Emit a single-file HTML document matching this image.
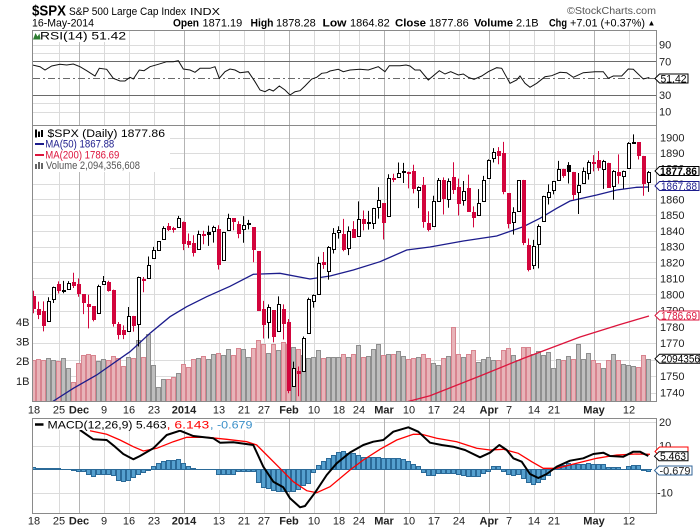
<!DOCTYPE html>
<html><head><meta charset="utf-8">
<style>
html,body{margin:0;padding:0;background:#fff;}
svg{display:block;font-family:"Liberation Sans",Arial,sans-serif;}
</style></head><body>
<svg id="c" width="700" height="530" viewBox="0 0 700 530" xmlns="http://www.w3.org/2000/svg">
<defs>
<clipPath id="cpM"><rect x="33" y="126" width="623" height="275"/></clipPath>
<clipPath id="cpR"><rect x="33" y="31" width="623" height="94"/></clipPath>
<clipPath id="cpD"><rect x="33" y="419" width="623" height="94"/></clipPath>
</defs>
<rect x="0" y="0" width="700" height="530" fill="#fff"/>
<g id="grid"></g>
<g clip-path="url(#cpR)">
<line x1="33" x2="656" y1="61.5" y2="61.5" stroke="#6a6a6a"/>
<line x1="33" x2="656" y1="95.5" y2="95.5" stroke="#6a6a6a"/>
<line x1="33" x2="656" y1="78.5" y2="78.5" stroke="#6a6a6a" stroke-dasharray="7,3,2,3"/>
<polyline fill="none" stroke="#111" stroke-width="1" points="32.5,65 40,66.7 45,70 51.7,66 60,64.3 66.7,65 73.3,64 80,66.7 86.7,70.7 95,76 99.3,68.3 106.7,69.3 113.3,78.3 120,81 125,81 130,77.3 133.3,79 139.3,70 144,70.7 150,66.7 158.3,64.3 166.7,61.7 173.3,61.7 178.3,60.7 183.3,69 190,70 195,72.3 200,68.3 210,68.3 215,66.7 219.3,78.3 225,71.7 230,69 235,70 240,72.7 248.3,71.7 255,81.7 260,90 265,91.7 269.3,89.3 273.3,91 279.3,86 285,90 290,95 295,91.7 300,90.7 305,86 311.7,79 316.7,77.3 321.7,73.3 326.7,72.7 330,71 338.3,69.3 343.3,71.7 350,70 360,69.3 368.3,70 378.3,66.7 385,71.7 389.3,65.7 400,65.7 406,65 410,66 415,70 420,70 428.3,80 439.3,70.7 445,74 450.7,71.7 458.3,75 463.3,74 468.3,77.3 474,79.3 481.7,76 488.3,71.7 496.7,67.7 501.7,68.3 510,83.3 516.7,80 520,76 525,83.3 530,87.3 536.7,83.3 545,76.7 551.7,75.7 560,72.3 566.7,72.7 573.3,77.3 583.3,72.7 595,71.7 603.3,71.7 608.3,78.3 613.3,76 621.7,76 628.3,69 633.3,69.3 643.3,79 649.3,77.5"/>
</g>
<g clip-path="url(#cpM)">
<g id="vol"></g>
<polyline fill="none" stroke="#1c1c8c" stroke-width="1.3" points="52.7,401.5 73.3,388.3 96.7,375 130,351.7 150,333.3 170,316.7 186.7,306.7 206.7,296.7 230,286.3 253.3,274.3 280,273.3 310,279 330,276 353.3,270 380,261.7 406.7,250 430,247 463.3,241 496.7,236 523.3,226.7 540,218.3 556.7,208.3 570,201 596.7,195 616.7,190 636.7,187.3 649,187"/>
<polyline fill="none" stroke="#dc143c" stroke-width="1.3" points="408,401.5 430,395.7 480,376 523,358.5 580,337 620,324.5 649,316"/>
<g id="cand"></g>
</g>
<g clip-path="url(#cpD)">
<line x1="33" x2="652" y1="469.5" y2="469.5" stroke="#2b6a98"/>
<g id="hist"></g>
<polyline fill="none" stroke="#ff0000" stroke-width="1.3" points="90,430.7 106.7,434.3 120,440 133.3,446.7 143.3,451 156.7,448.3 173.3,441.7 186.7,437.3 206.7,437.3 226.7,439.3 246.7,441.7 256.7,445 266.7,455 280,468.3 293.3,481.7 306.7,490.7 316.7,492.7 330,486.7 350,470 363.3,460 380,449.3 396.7,440 413.3,434.3 421.7,434.3 436.7,438.3 456.7,441.7 476.7,448.3 490,450 503.3,449.3 518.3,453.3 531.7,461.7 543.3,468.3 556.7,468.3 576.7,463.3 596.7,458.3 616.7,455 636.7,454 650,454.3"/>
<polyline fill="none" stroke="#000" stroke-width="2" stroke-linejoin="round" points="80,430 93.3,439.3 106.7,440 115,446.7 123.3,454 133.3,459.3 140,456 153.3,448.3 166.7,435 180,430.7 193.3,436 213.3,438.3 220,442.7 233.3,442.3 253.3,445 263.3,466.7 273.3,481.7 283.3,487.3 290,498.3 300,507.3 305,506 315,492.7 326.7,475 336.7,463.3 350,452.5 363.3,445 373.3,441.7 383.3,440 393.3,431.7 408.3,427.3 418.3,431.7 430,442.7 441.7,445 453.3,446.7 465,450 480,457.3 490,452.7 499.3,445 506.7,450 513.3,458.3 521.7,461.7 530,474 538.3,478 546.7,474 556.7,466.7 570,460.7 583.3,458.3 593.3,454 603.3,452.7 610,456 623.3,456.7 633.3,451.7 640,451.7 648.3,456"/>
</g>

<rect x="32.5" y="30.5" width="624" height="95" fill="none" stroke="#8a8a8a"/>
<rect x="32.5" y="125.5" width="624" height="276" fill="none" stroke="#8a8a8a"/>
<rect x="32.5" y="418.5" width="624" height="95" fill="none" stroke="#8a8a8a"/>

<text x="32" y="15.5" font-size="15" font-weight="bold" fill="#000" textLength="34" lengthAdjust="spacingAndGlyphs">$SPX</text>
<text x="69" y="15" font-size="11" fill="#000" textLength="117" lengthAdjust="spacingAndGlyphs">S&amp;P 500 Large Cap Index</text>
<text x="190" y="15" font-size="10" fill="#000" textLength="30" lengthAdjust="spacingAndGlyphs">INDX</text>
<text x="567" y="14" font-size="10.5" fill="#555" textLength="89" lengthAdjust="spacingAndGlyphs">©StockCharts.com</text>
<text x="32" y="26.5" font-size="11" fill="#000" textLength="62" lengthAdjust="spacingAndGlyphs">16-May-2014</text>
<g font-size="11" fill="#000">
<text x="173" y="26.5" font-weight="bold" textLength="26" lengthAdjust="spacingAndGlyphs">Open</text>
<text x="202.5" y="26.5">1871.19</text>
<text x="250.5" y="26.5" font-weight="bold" textLength="23" lengthAdjust="spacingAndGlyphs">High</text>
<text x="276" y="26.5">1878.28</text>
<text x="322.5" y="26.5" font-weight="bold" textLength="24" lengthAdjust="spacingAndGlyphs">Low</text>
<text x="350" y="26.5">1864.82</text>
<text x="395" y="26.5" font-weight="bold" textLength="31" lengthAdjust="spacingAndGlyphs">Close</text>
<text x="429" y="26.5">1877.86</text>
<text x="474" y="26.5" font-weight="bold" textLength="39" lengthAdjust="spacingAndGlyphs">Volume</text>
<text x="516" y="26.5">2.1B</text>
<text x="549" y="26.5" font-weight="bold" textLength="18" lengthAdjust="spacingAndGlyphs">Chg</text>
<text x="570" y="26.5" textLength="75" lengthAdjust="spacingAndGlyphs">+7.01 (+0.37%)</text>
<text x="647.5" y="25.5" font-size="8">▲</text>
</g>

<rect x="33" y="31" width="96" height="11" fill="#fff"/>
<polygon points="33,39.5 35.5,33 37.5,36.5 39.5,33.5 40.5,39.5" fill="#2e7d32"/>
<text x="40" y="39.5" font-size="11" fill="#000" textLength="86" lengthAdjust="spacingAndGlyphs">RSI(14) 51.42</text>

<g font-size="11" fill="#222">
<text x="659" y="48.5">90</text>
<text x="659" y="65.5">70</text>
<text x="659" y="99">30</text>
<text x="659" y="115.5">10</text>
</g>
<polygon points="655,78.5 659.5,74 688,74 688,83 659.5,83" fill="#fff" stroke="#000"/>
<text x="660.5" y="82.5" font-size="11" fill="#000" textLength="26" lengthAdjust="spacingAndGlyphs">51.42</text>

<rect x="33" y="126" width="137" height="46" fill="#fff"/>
<rect x="35" y="130" width="2" height="7" fill="#000"/>
<rect x="38" y="131.5" width="2" height="5.5" fill="#000"/>
<rect x="41" y="130" width="2" height="7" fill="#000"/>
<line x1="36" x2="36" y1="129" y2="138" stroke="#000"/>
<text x="47.5" y="137" font-size="11" fill="#000" textLength="117.5" lengthAdjust="spacingAndGlyphs">$SPX (Daily) 1877.86</text>
<line x1="35" x2="44" y1="144" y2="144" stroke="#1c1c8c" stroke-width="2"/>
<text x="45.3" y="147.5" font-size="11" fill="#1c1c8c" textLength="69" lengthAdjust="spacingAndGlyphs">MA(50) 1867.88</text>
<line x1="35" x2="44" y1="155" y2="155" stroke="#dc143c" stroke-width="2"/>
<text x="45.3" y="158.5" font-size="11" fill="#dc143c" textLength="74" lengthAdjust="spacingAndGlyphs">MA(200) 1786.69</text>
<rect x="35" y="164" width="2" height="5" fill="#666"/>
<rect x="38" y="162" width="2" height="7" fill="#666"/>
<rect x="41" y="163" width="2" height="6" fill="#666"/>
<text x="46" y="169" font-size="11" fill="#555" textLength="94" lengthAdjust="spacingAndGlyphs">Volume 2,094,356,608</text>

<g font-size="11" fill="#222">
<text x="660" y="141.7">1900</text>
<text x="660" y="157">1890</text>
<text x="660" y="172.4">1880</text>
<text x="660" y="187.9">1870</text>
<text x="660" y="203.5">1860</text>
<text x="660" y="219.1">1850</text>
<text x="660" y="234.8">1840</text>
<text x="660" y="250.6">1830</text>
<text x="660" y="266.5">1820</text>
<text x="660" y="282.5">1810</text>
<text x="660" y="298.5">1800</text>
<text x="660" y="314.7">1790</text>
<text x="660" y="330.9">1780</text>
<text x="660" y="347.2">1770</text>
<text x="660" y="363.6">1760</text>
<text x="660" y="380.1">1750</text>
<text x="660" y="396.7">1740</text>
</g>
<g font-size="11" fill="#222" text-anchor="end">
<text x="29.5" y="326">4B</text>
<text x="29.5" y="345.5">3B</text>
<text x="29.5" y="365">2B</text>
<text x="29.5" y="385">1B</text>
</g>
<polygon points="655,186 659.5,181.5 699,181.5 699,190.5 659.5,190.5" fill="#fff" stroke="#1c1c8c"/>
<text x="661" y="190" font-size="11" fill="#1c1c8c" textLength="36" lengthAdjust="spacingAndGlyphs">1867.88</text>
<polygon points="655,171 659.5,166.5 699,166.5 699,175.5 659.5,175.5" fill="#fff" stroke="#000"/>
<text x="660" y="175" font-size="11" font-weight="bold" fill="#000" textLength="37" lengthAdjust="spacingAndGlyphs">1877.86</text>
<polygon points="655,315.5 659.5,311 699,311 699,320 659.5,320" fill="#fff" stroke="#dc143c"/>
<text x="661" y="319.5" font-size="11" fill="#dc143c" textLength="36" lengthAdjust="spacingAndGlyphs">1786.69</text>
<polygon points="655,358.7 659.5,354.2 700,354.2 700,363.2 659.5,363.2" fill="#fff" stroke="#000"/>
<text x="661" y="362.7" font-size="11" fill="#000" textLength="39" lengthAdjust="spacingAndGlyphs">2094356</text>

<g font-size="11" fill="#222" text-anchor="middle">
<text x="34" y="413.5">18</text>
<text x="59" y="413.5">25</text>
<text x="79" y="413.5" font-weight="bold">Dec</text>
<text x="104" y="413.5">9</text>
<text x="129" y="413.5">16</text>
<text x="154" y="413.5">23</text>
<text x="184" y="413.5" font-weight="bold">2014</text>
<text x="219" y="413.5">13</text>
<text x="244" y="413.5">21</text>
<text x="264" y="413.5">27</text>
<text x="289" y="413.5" font-weight="bold">Feb</text>
<text x="314" y="413.5">10</text>
<text x="339" y="413.5">18</text>
<text x="359" y="413.5">24</text>
<text x="384" y="413.5" font-weight="bold">Mar</text>
<text x="409" y="413.5">10</text>
<text x="434" y="413.5">17</text>
<text x="459" y="413.5">24</text>
<text x="489" y="413.5" font-weight="bold">Apr</text>
<text x="509" y="413.5">7</text>
<text x="534" y="413.5">14</text>
<text x="554" y="413.5">21</text>
<text x="594" y="413.5" font-weight="bold">May</text>
<text x="629" y="413.5">12</text>
</g>
<g font-size="11" fill="#222" text-anchor="middle">
<text x="34" y="524.5">18</text>
<text x="59" y="524.5">25</text>
<text x="79" y="524.5" font-weight="bold">Dec</text>
<text x="104" y="524.5">9</text>
<text x="129" y="524.5">16</text>
<text x="154" y="524.5">23</text>
<text x="184" y="524.5" font-weight="bold">2014</text>
<text x="219" y="524.5">13</text>
<text x="244" y="524.5">21</text>
<text x="264" y="524.5">27</text>
<text x="289" y="524.5" font-weight="bold">Feb</text>
<text x="314" y="524.5">10</text>
<text x="339" y="524.5">18</text>
<text x="359" y="524.5">24</text>
<text x="384" y="524.5" font-weight="bold">Mar</text>
<text x="409" y="524.5">10</text>
<text x="434" y="524.5">17</text>
<text x="459" y="524.5">24</text>
<text x="489" y="524.5" font-weight="bold">Apr</text>
<text x="509" y="524.5">7</text>
<text x="534" y="524.5">14</text>
<text x="554" y="524.5">21</text>
<text x="594" y="524.5" font-weight="bold">May</text>
<text x="629" y="524.5">12</text>
</g>

<rect x="33" y="419" width="222" height="11" fill="#fff"/>
<line x1="35" x2="43.5" y1="424.5" y2="424.5" stroke="#000" stroke-width="2.5"/>
<text x="47.5" y="428.3" font-size="11" fill="#000" textLength="119" lengthAdjust="spacingAndGlyphs">MACD(12,26,9) 5.463</text>
<text x="166.7" y="428.3" font-size="11" fill="#ff0000" textLength="42.5" lengthAdjust="spacingAndGlyphs">, 6.143</text>
<text x="210" y="428.3" font-size="11" fill="#3a8fc8" textLength="42.5" lengthAdjust="spacingAndGlyphs">, -0.679</text>

<g font-size="11" fill="#222">
<text x="659" y="426">20</text>
<text x="659" y="449.5">10</text>
<text x="657" y="496.5">-10</text>
</g>
<polygon points="655,451.5 659.5,447 688,447 688,456 659.5,456" fill="#fff" stroke="#ff0000"/>
<polygon points="654.5,456.2 659,451.7 688,451.7 688,460.7 659,460.7" fill="#fff" stroke="#000"/>
<text x="660" y="460.2" font-size="11" fill="#000" textLength="26" lengthAdjust="spacingAndGlyphs">5.463</text>
<polygon points="654.5,470.5 659,466 692,466 692,475 659,475" fill="#fff" stroke="#336699"/>
<text x="659.5" y="474.5" font-size="11" fill="#222" textLength="31" lengthAdjust="spacingAndGlyphs">-0.679</text>
</svg>
<script>
(function(){
const NS="http://www.w3.org/2000/svg";
function el(p,t,a){const e=document.createElementNS(NS,t);for(const k in a)e.setAttribute(k,a[k]);p.appendChild(e);return e;}
const py=p=>137.7+2899*Math.log(1900/p);
const X=i=>34+5*i;
const C=[1791.53,1787.87,1781.37,1795.85,1804.76,1802.48,1802.75,1807.23,1805.81,1800.90,
1795.15,1792.81,1785.03,1805.09,1808.37,1802.62,1782.22,1775.50,1775.32,1786.54,
1781.00,1810.65,1809.60,1818.32,1827.99,1833.32,1842.02,1841.40,1841.07,1848.36,
1831.98,1831.37,1826.77,1837.88,1837.49,1838.13,1842.37,1819.20,1838.88,1848.38,
1845.89,1838.70,1843.80,1844.86,1828.46,1790.29,1781.56,1792.50,1774.20,1794.19,
1782.59,1741.89,1755.20,1751.64,1773.43,1797.02,1799.84,1819.75,1819.26,1829.83,
1838.63,1840.76,1828.75,1839.78,1836.25,1847.61,1845.12,1845.16,1854.29,1859.45,
1845.73,1873.91,1873.81,1877.03,1878.04,1877.17,1867.63,1868.20,1846.34,1841.13,
1858.83,1872.25,1860.77,1872.01,1866.52,1857.44,1865.62,1852.56,1849.04,1857.62,
1872.34,1885.52,1890.90,1888.77,1865.09,1845.04,1851.96,1872.18,1833.08,1815.69,
1830.61,1842.98,1862.31,1864.85,1871.89,1879.55,1875.39,1878.61,1863.40,1869.43,
1878.33,1883.95,1883.68,1881.14,1884.66,1867.72,1878.21,1875.63,1878.48,1896.65,
1897.45,1888.53,1870.85,1877.86];
const O=[1798.82,1790.79,1789.59,1783.52,1797.21,1806.33,1802.87,1803.48,1808.01,1806.55,
1800.10,1794.07,1792.82,1788.36,1806.21,1807.60,1802.76,1781.71,1777.98,1777.48,
1786.47,1781.46,1809.00,1810.39,1822.92,1828.02,1834.96,1842.97,1841.47,1842.61,
1845.86,1833.21,1832.31,1828.71,1837.90,1839.00,1840.06,1841.26,1821.36,1840.52,
1847.99,1844.23,1841.05,1844.71,1842.29,1826.96,1791.03,1783.00,1790.15,1777.17,
1790.88,1782.68,1743.82,1753.38,1752.99,1776.01,1796.20,1800.45,1820.12,1814.82,
1828.46,1839.03,1838.22,1829.24,1841.07,1836.78,1847.66,1845.79,1844.90,1855.12,
1857.68,1849.23,1874.05,1874.18,1878.52,1877.86,1878.26,1866.15,1869.06,1845.07,
1842.81,1858.92,1872.25,1860.09,1874.53,1867.67,1859.48,1867.09,1852.11,1850.07,
1859.16,1873.96,1886.61,1891.43,1890.25,1863.92,1845.48,1852.64,1872.28,1830.65,
1818.18,1831.45,1846.01,1861.73,1865.79,1872.57,1879.32,1881.97,1877.72,1865.00,
1870.78,1877.10,1884.39,1885.30,1879.45,1883.69,1868.53,1877.39,1875.27,1880.03,
1896.75,1897.13,1888.16,1871.19];
const H=[1802.33,1795.51,1795.73,1798.22,1804.84,1808.10,1808.42,1808.27,1813.55,1810.02,
1800.10,1799.80,1792.82,1806.04,1811.52,1808.52,1802.97,1782.99,1780.92,1792.22,
1786.77,1811.08,1810.88,1823.75,1829.75,1833.32,1842.84,1844.89,1842.47,1849.44,
1845.86,1838.24,1837.16,1840.10,1840.02,1843.23,1843.15,1843.45,1839.26,1850.84,
1847.99,1846.04,1849.31,1846.87,1842.29,1826.96,1795.98,1793.87,1790.15,1798.77,
1793.88,1784.83,1758.73,1755.79,1774.06,1798.03,1799.94,1823.54,1826.55,1830.25,
1841.65,1842.87,1847.50,1842.79,1846.13,1858.71,1852.91,1852.65,1854.53,1867.92,
1857.68,1876.23,1876.53,1883.84,1883.57,1877.87,1882.35,1868.38,1874.40,1852.44,
1862.30,1873.76,1874.14,1873.49,1883.97,1873.34,1871.87,1875.92,1855.55,1866.63,
1875.18,1885.84,1893.17,1893.80,1897.28,1864.04,1854.95,1872.43,1872.53,1835.07,
1834.19,1844.02,1862.31,1869.63,1871.89,1884.89,1879.75,1884.06,1877.72,1877.01,
1880.60,1885.20,1888.59,1891.33,1885.51,1883.69,1878.83,1889.07,1878.57,1897.13,
1902.17,1897.13,1888.16,1878.28];
const L=[1788.39,1784.72,1777.23,1783.52,1794.70,1800.58,1800.77,1802.77,1803.98,1798.60,
1787.85,1779.09,1783.38,1788.36,1806.21,1801.75,1780.09,1772.28,1772.45,1777.48,
1777.05,1767.99,1801.35,1810.25,1822.92,1828.02,1834.96,1839.81,1838.77,1842.41,
1827.74,1829.13,1823.73,1828.71,1831.40,1830.38,1832.43,1815.52,1821.36,1840.52,
1840.30,1835.23,1832.38,1840.88,1820.06,1790.29,1772.88,1772.88,1770.45,1777.17,
1772.26,1739.66,1743.82,1737.92,1752.99,1776.01,1791.83,1800.41,1815.97,1809.22,
1825.59,1835.01,1826.99,1824.58,1835.60,1836.78,1840.19,1840.66,1841.13,1847.67,
1834.44,1849.23,1871.11,1874.18,1870.56,1867.04,1863.88,1854.38,1841.86,1839.57,
1842.81,1858.92,1850.35,1854.63,1863.46,1849.69,1855.96,1852.56,1842.11,1850.07,
1859.16,1873.96,1883.79,1882.65,1863.26,1841.48,1837.49,1852.38,1830.87,1814.36,
1815.80,1816.29,1846.01,1856.72,1863.18,1872.57,1873.91,1870.24,1859.70,1850.61,
1870.78,1872.69,1878.04,1878.50,1866.77,1867.72,1859.79,1870.05,1867.02,1880.03,
1896.06,1885.77,1862.36,1864.82];
const V=[2.07,2.1,2.07,2.15,2.07,2.02,2.15,1.65,0.95,1.9,
2.3,2.35,2.3,2.0,2.1,2.05,2.28,2.15,1.75,2.2,
2.15,3.1,2.2,3.4,1.82,0.7,1.1,1.12,1.2,1.4,
1.85,1.72,2.1,2.15,2.27,2.1,2.35,2.4,2.32,2.6,
2.32,2.66,2.6,2.2,2.66,3.1,2.88,2.4,2.9,2.57,
2.96,2.9,2.74,2.6,2.3,2.15,2.2,2.55,2.15,2.2,
2.2,2.2,2.35,2.2,2.35,2.85,2.2,2.25,2.6,2.87,
2.3,2.35,2.35,2.5,2.25,2.1,2.15,2.2,2.35,2.15,
1.9,1.81,2.15,2.27,3.76,2.37,2.23,2.37,2.57,1.98,
2.1,2.2,2.07,2.07,2.57,2.66,2.32,2.07,2.71,2.71,
2.37,2.52,2.32,2.49,1.64,2.1,2.07,2.28,2.1,2.88,
2.1,2.4,2.07,1.9,1.64,2.05,2.37,2.07,1.85,1.81,
1.76,1.7,2.32,2.094];
const HI=[2,1,0.7,0.7,0.7,0.7,0.5,0.5,-0.5,-1.5,
-2,-5,-6.5,-5,-4.5,-4.5,-6,-11,-12,-11,
-8,-5,-3,-1,3,6.5,8.5,9.5,9.5,9.7,
6,3.5,1.5,0,0,0,0,-4.5,-4.5,-4.5,
-4.5,-2,-2,-2,-2,-13,-18,-19,-21,-22,
-22,-22,-21.5,-20,-16,-14,-3,4,8,11,
14,17,18,16.5,16,14,12.5,12.5,12,12,
11,11,11,11,10,8,5,3,-3,-6,
-6,-4,-4,-4,-4,-4.5,-6,-6.5,-7,-7,
-4,-2,3,3.5,-2,-5,-6,-5,-9,-13,
-14.5,-13,-10,-6,1,3,4.5,6.5,5,5,
5.5,6,5.5,5.5,5,2.5,2.5,2,0,3,
4,4,-0.5,-1.6];
const gg=document.getElementById('grid');
const wk=[5,9,14,19,24,30,37,42,46,51,56,61,65,70,75,80,85,91,95,100,104,112,119];
const mon=[9,30,51,70,91,112];
for(let p=1740;p<=1900;p+=10){const y=Math.round(py(p))+0.5;el(gg,'line',{x1:33,x2:656,y1:y,y2:y,stroke:'#dcdcdc'});}
for(const r of [10,20,80,90]){const y=Math.round(120-0.8333*r)+0.5;el(gg,'line',{x1:33,x2:656,y1:y,y2:y,stroke:'#dcdcdc'});}
for(const v of [20,10,-10]){const y=Math.round(469-2.35*v)+0.5;el(gg,'line',{x1:33,x2:656,y1:y,y2:y,stroke:'#dcdcdc'});}
for(const i of wk){const x=X(i)+0.5;const c=mon.includes(i)?'#b4b4b4':'#dadada';
 for(const [a,b] of [[31,125],[126,401],[419,513]])el(gg,'line',{x1:x,x2:x,y1:a,y2:b,stroke:c});}
const vg=document.getElementById('vol');
for(let i=0;i<124;i++){const cx=X(i);const pc=i?C[i-1]:1798.18;const dn=C[i]<pc;
 const top=Math.round(400.7-19.7*V[i])+0.5;
 el(vg,'rect',{x:cx-2.5,y:top,width:4,height:402-top,fill:dn?'#e8b4b9':'#bebebe',stroke:dn?'#d8848f':'#8e8e8e','stroke-width':1});}
const cg=document.getElementById('cand');
for(let i=0;i<124;i++){const cx=X(i);const pc=i?C[i-1]:1798.18;
 const col=C[i]<pc?'#d2043c':'#000';
 const yo=py(O[i]),yc=py(C[i]),yh=py(H[i]),yl=py(L[i]);
 el(cg,'line',{x1:cx-0.5,x2:cx-0.5,y1:yh,y2:yl,stroke:col,'stroke-width':1});
 let top=Math.round(Math.min(yo,yc))+0.5,bot=Math.round(Math.max(yo,yc))+0.5;if(bot-top<1)bot=top+1;
 const filled=C[i]<O[i];
 el(cg,'rect',{x:cx-1.5,y:top,width:3,height:bot-top,fill:filled?col:'#fff',stroke:col,'stroke-width':1});}
const hg=document.getElementById('hist');
for(let i=0;i<124;i++){const cx=X(i);const h=HI[i];
 let t,b;if(h>=0){t=469.5-h;b=469.5;}else{t=469.5;b=469.5-h;}
 t=Math.round(t-0.5)+0.5;b=Math.round(b-0.5)+0.5;
 el(hg,'rect',{x:cx-2.5,y:t,width:4,height:Math.max(0,b-t),fill:'#55a0cf',stroke:'#2b6a98','stroke-width':1});}
})();
</script>
</body></html>
